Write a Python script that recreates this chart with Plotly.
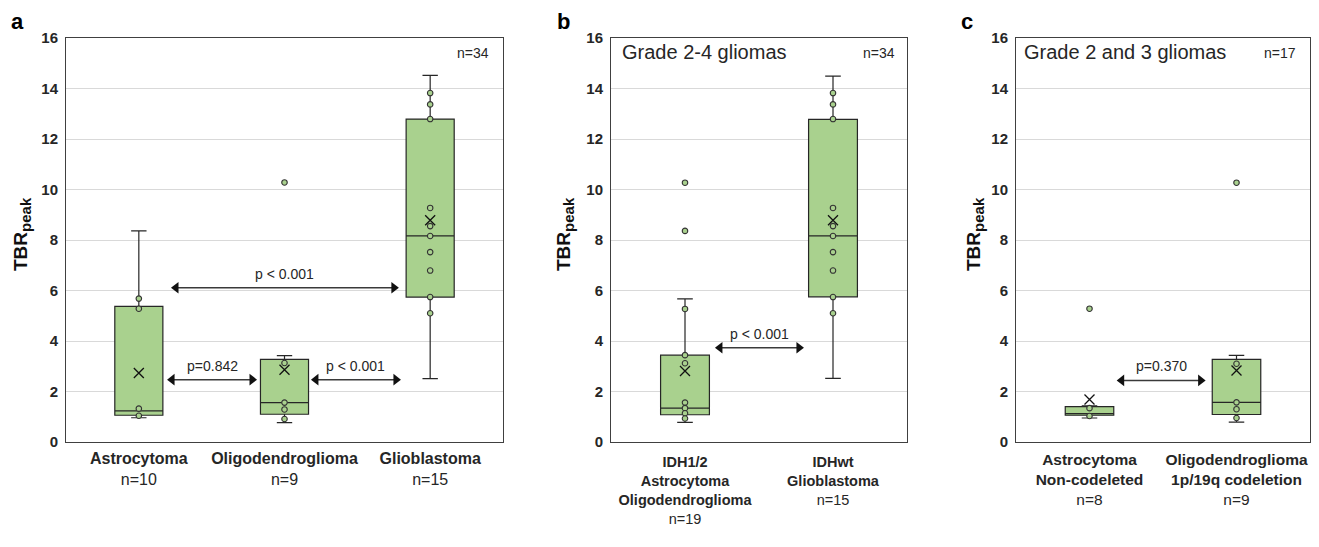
import plotly.graph_objects as go

# ---------------- data ----------------
# Panel a
a_cats = ["Astrocytoma", "Oligodendroglioma", "Glioblastoma"]
a_n = ["n=10", "n=9", "n=15"]
a_q1 = [1.06, 1.10, 5.74]
a_med = [1.23, 1.56, 8.16]
a_q3 = [5.37, 3.27, 12.79]
a_lo = [0.96, 0.77, 2.51]
a_hi = [8.36, 3.42, 14.52]
a_mean = [2.73, 2.86, 8.78]
a_points = [
    [5.68, 5.28, 1.32, 1.04],
    [10.28, 3.13, 1.56, 1.29, 0.91],
    [13.82, 13.37, 12.79, 9.27, 8.55, 8.16, 7.52, 6.79, 5.74, 5.10],
]

# Panel b
b_cats = [["IDH1/2", "Astrocytoma", "Oligodendroglioma"], ["IDHwt", "Glioblastoma"]]
b_n = ["n=19", "n=15"]
b_q1 = [1.08, 5.75]
b_med = [1.34, 8.16]
b_q3 = [3.44, 12.78]
b_lo = [0.78, 2.52]
b_hi = [5.67, 14.49]
b_mean = [2.81, 8.78]
b_points = [
    [10.27, 8.36, 5.27, 3.44, 3.12, 1.56, 1.34, 1.14, 0.93],
    [13.82, 13.37, 12.79, 9.27, 8.55, 8.16, 7.52, 6.79, 5.74, 5.10],
]

# Panel c
c_cats = [["Astrocytoma", "Non-codeleted"], ["Oligodendroglioma", "1p/19q codeletion"]]
c_n = ["n=8", "n=9"]
c_q1 = [1.06, 1.09]
c_med = [1.12, 1.57]
c_q3 = [1.40, 3.27]
c_lo = [0.95, 0.79]
c_hi = [1.43, 3.43]
c_mean = [1.68, 2.83]
c_points = [
    [5.28, 1.34, 1.03],
    [10.27, 3.10, 1.57, 1.30, 0.95],
]

# comparisons: (x_start, x_end, y, label)
a_comp = [(0.255, 1.751, 6.11, "p < 0.001"), (0.228, 0.777, 2.47, "p=0.842"), (1.216, 1.765, 2.47, "p < 0.001")]
b_comp = [(0.236, 0.770, 3.73, "p < 0.001")]
c_comp = [(0.219, 0.756, 2.44, "p=0.370")]

# ---------------- styling ----------------
FONT = "Arial"
GREEN = "#a9d18e"
EDGE = "#262626"
TXT = "#262626"
W, H = 1319, 547
OFF = 8  # page body margin offset


def X(px):
    return (px - OFF) / W


def Y(py):
    return 1 - (py - OFF) / H


fig = go.Figure()

panels = [
    dict(xa="x", ya="y", cats=a_cats, n=a_n, q1=a_q1, med=a_med, q3=a_q3, lo=a_lo, hi=a_hi,
         mean=a_mean, pts=a_points, comp=a_comp, dom=[X(66), X(503)], ntot="n=34", nx=491,
         title=None, tx=None, ytx=22, xfs=16, xso=2),
    dict(xa="x2", ya="y2", cats=b_cats, n=b_n, q1=b_q1, med=b_med, q3=b_q3, lo=b_lo, hi=b_hi,
         mean=b_mean, pts=b_points, comp=b_comp, dom=[X(611), X(907)], ntot="n=34", nx=897,
         title="Grade 2-4 gliomas", tx=620, ytx=565, xfs=14.5, xso=7),
    dict(xa="x3", ya="y3", cats=c_cats, n=c_n, q1=c_q1, med=c_med, q3=c_q3, lo=c_lo, hi=c_hi,
         mean=c_mean, pts=c_points, comp=c_comp, dom=[X(1016), X(1310)], ntot="n=17", nx=1298,
         title="Grade 2 and 3 gliomas", tx=1022, ytx=975, xfs=15.5, xso=3),
]

annotations = []
ydom = [Y(442), Y(38)]

for i, p in enumerate(panels):
    k = len(p["cats"])
    xs = list(range(k))
    for j in xs:
        fig.add_trace(go.Box(
            x=[j], q1=[p["q1"][j]], median=[p["med"][j]], q3=[p["q3"][j]],
            lowerfence=[p["lo"][j]], upperfence=[p["hi"][j]],
            width=0.33, whiskerwidth=0.32, fillcolor=GREEN,
            line=dict(color=EDGE, width=1.2), boxpoints=False,
            xaxis=p["xa"], yaxis=p["ya"], showlegend=False, hoverinfo="skip"))
        fig.add_trace(go.Scatter(
            x=[j] * len(p["pts"][j]), y=p["pts"][j], mode="markers",
            marker=dict(symbol="circle", size=5.5, color=GREEN, line=dict(color="#333", width=1.1)),
            xaxis=p["xa"], yaxis=p["ya"], showlegend=False, hoverinfo="skip"))
        fig.add_trace(go.Scatter(
            x=[j], y=[p["mean"][j]], mode="markers",
            marker=dict(symbol="x-thin", size=10, line=dict(color="#111", width=1.3)),
            xaxis=p["xa"], yaxis=p["ya"], showlegend=False, hoverinfo="skip"))

    for (x0, x1, yv, lab) in p["comp"]:
        fig.add_trace(go.Scatter(
            x=[x0, x1], y=[yv, yv], mode="lines+markers",
            line=dict(color="#3a3a3a", width=1.5),
            marker=dict(symbol=["triangle-left", "triangle-right"], size=10, color="#111",
                        line=dict(width=0)),
            xaxis=p["xa"], yaxis=p["ya"], showlegend=False, hoverinfo="skip"))
        annotations.append(dict(
            x=(x0 + x1) / 2, y=yv, xref=p["xa"], yref=p["ya"], text=lab, showarrow=False,
            yshift=14, font=dict(family=FONT, size=14, color=TXT)))

    annotations.append(dict(
        x=X(p["nx"]), y=Y(53), xref="paper", yref="paper", text=p["ntot"],
        showarrow=False, xanchor="right", yanchor="middle", font=dict(family=FONT, size=14, color=TXT)))
    if p["title"]:
        annotations.append(dict(
            x=X(p["tx"]), y=Y(52), xref="paper", yref="paper", text=p["title"],
            showarrow=False, xanchor="left", yanchor="middle", font=dict(family=FONT, size=20, color=TXT)))

    # y-axis title
    annotations.append(dict(
        x=X(p["ytx"]), y=Y(234), xref="paper", yref="paper", textangle=-90,
        text="<b>TBR<sub><span style='font-size:15px'>peak</span></sub></b>",
        showarrow=False, xanchor="center", yanchor="middle",
        font=dict(family=FONT, size=19, color="#111")))

    ticktext = []
    for j in xs:
        c = p["cats"][j]
        lines = c if isinstance(c, list) else [c]
        ticktext.append("<br>".join(f"<b>{s}</b>" for s in lines) + "<br>" + p["n"][j])

    axn = "" if i == 0 else str(i + 1)
    fig.update_layout(**{
        f"xaxis{axn}": dict(
            domain=p["dom"], anchor=p["ya"], range=[-0.5, k - 0.5], tickmode="array",
            tickvals=xs, ticktext=ticktext, showgrid=False, zeroline=False, showline=True,
            mirror=True, linecolor="#404040", linewidth=1, ticks="", automargin=False,
            ticklabelstandoff=p["xso"],
            tickfont=dict(family=FONT, size=p["xfs"], color=TXT)),
        f"yaxis{axn}": dict(
            domain=ydom, anchor=p["xa"], range=[0, 16], dtick=2, showgrid=True,
            gridcolor="#d9d9d9", gridwidth=1, zeroline=False, showline=True, mirror=True,
            linecolor="#404040", linewidth=1, ticks="", automargin=False, ticklabelstandoff=4,
            tickfont=dict(family=FONT, size=15, color=TXT, weight="bold")),
    })

for lab, xp in [("a", 17), ("b", 563), ("c", 967)]:
    annotations.append(dict(
        x=X(xp), y=1.0, xref="paper", yref="paper", text=f"<b>{lab}</b>",
        showarrow=False, xanchor="center", yanchor="top", borderpad=0,
        font=dict(family=FONT, size=22, color="#000")))

fig.update_layout(
    width=W, height=H, margin=dict(l=0, r=0, t=0, b=0, autoexpand=False),
    paper_bgcolor="white", plot_bgcolor="white", annotations=annotations,
    font=dict(family=FONT, color=TXT), showlegend=False)

fig.write_html("out.html")
